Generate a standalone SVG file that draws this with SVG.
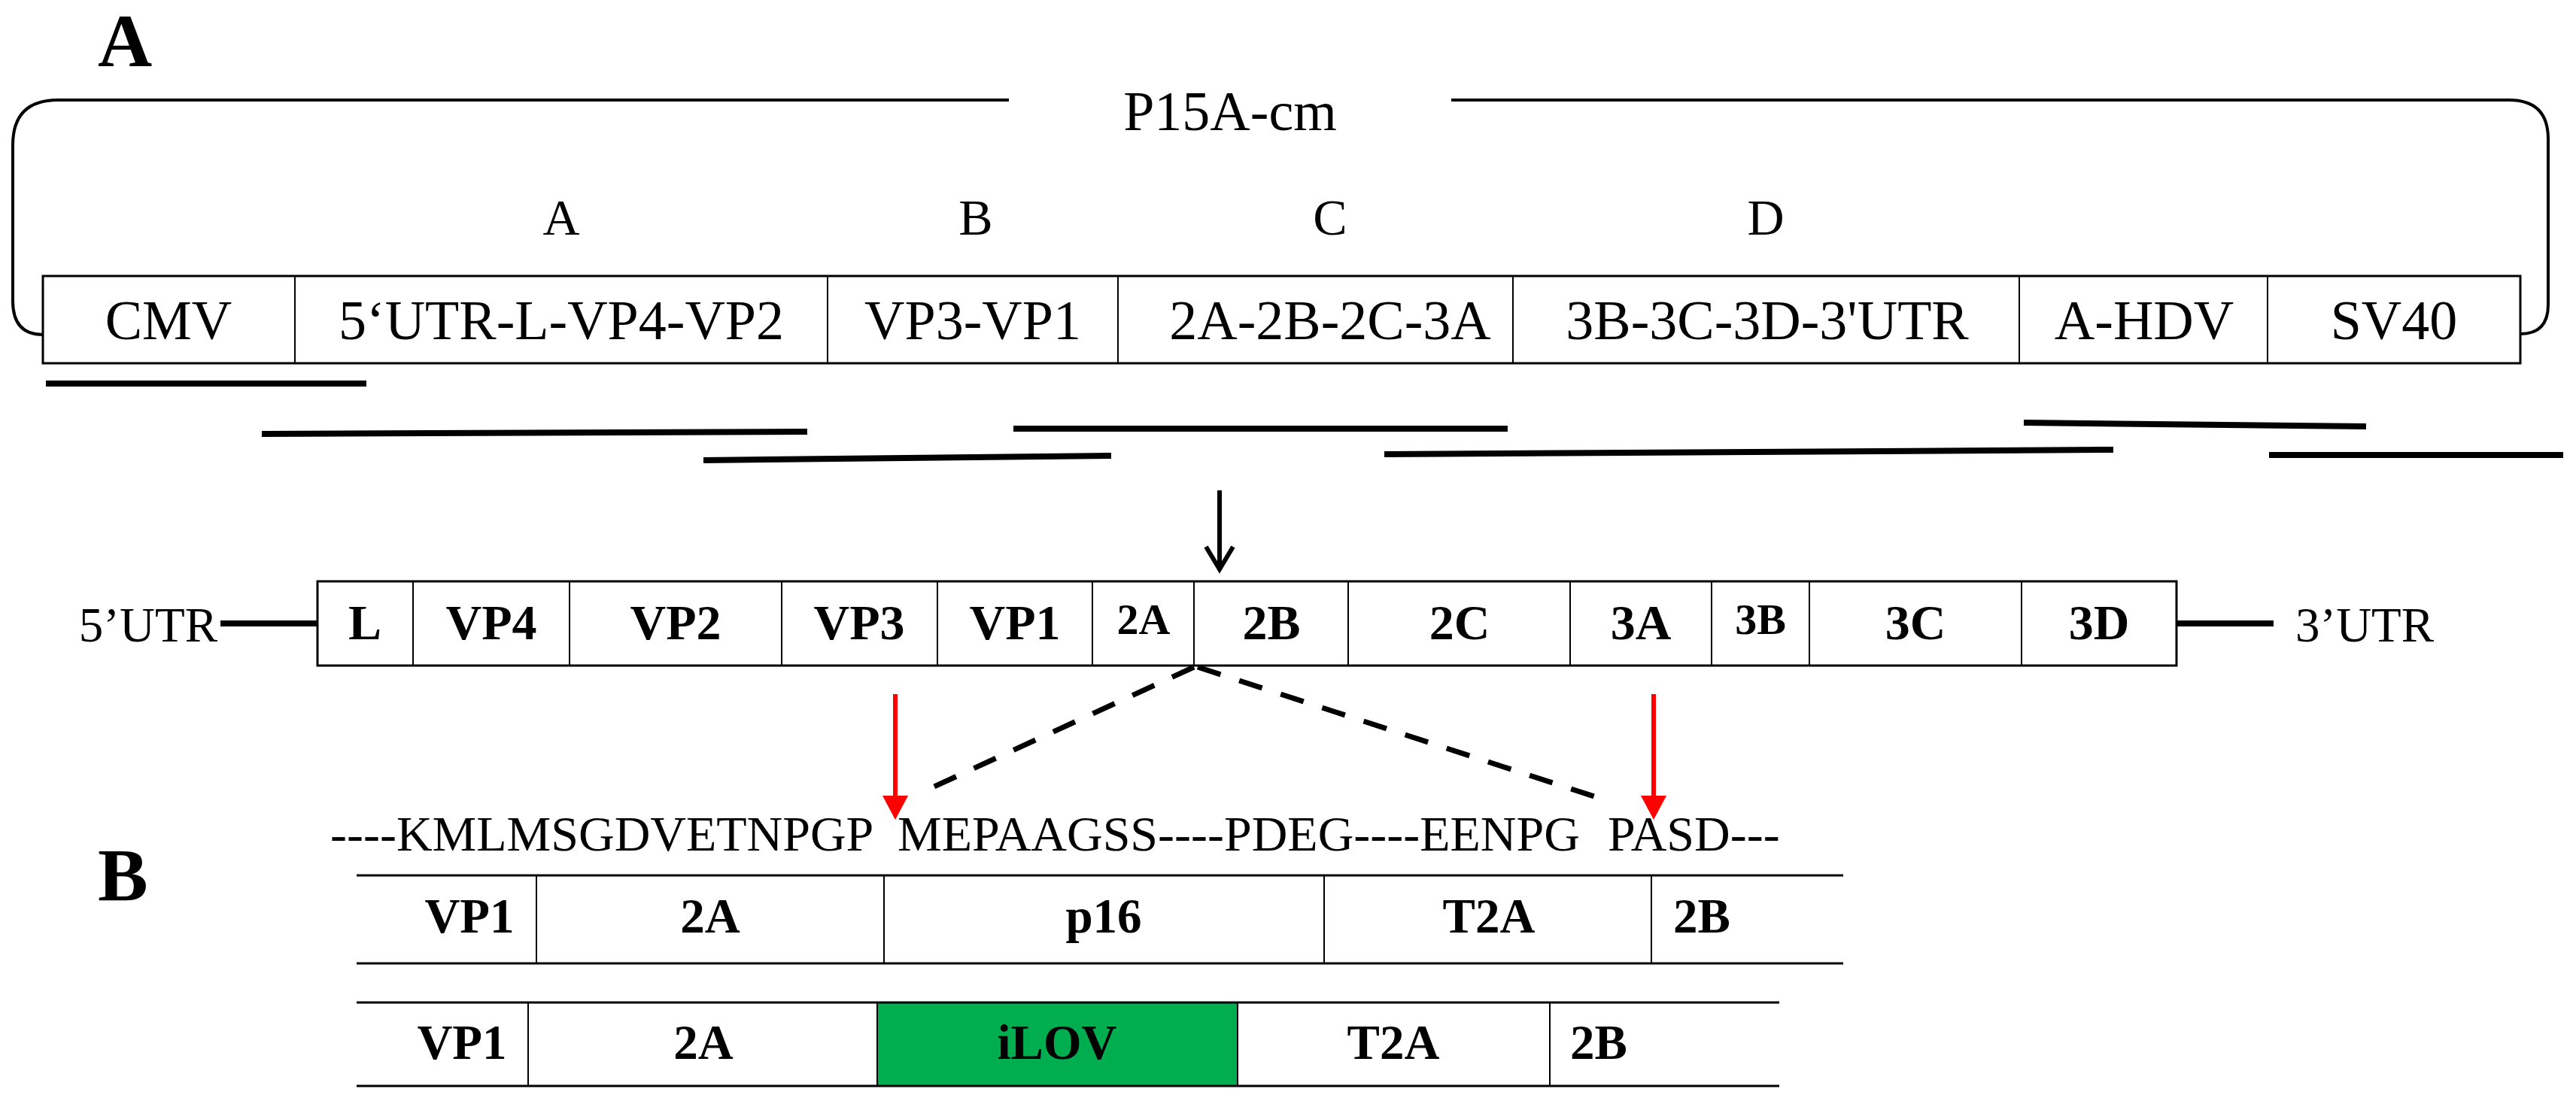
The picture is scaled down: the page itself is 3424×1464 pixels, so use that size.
<svg xmlns="http://www.w3.org/2000/svg" width="3424" height="1464" viewBox="0 0 3424 1464">
<defs>
<style>
text{font-family:"Liberation Serif","Times New Roman",serif;fill:#000}
.panel{font-size:100px;font-weight:bold}
.reg{font-size:74px;text-anchor:middle}
.seg{font-size:68px;text-anchor:middle}
.gb{font-size:66px;font-weight:bold;text-anchor:middle}
.gs{font-size:58px;font-weight:bold;text-anchor:middle}
.utr{font-size:65px}
.seq{font-size:66px}
.tb{font-size:65px;font-weight:bold;text-anchor:middle}
.tbs{font-size:65px;font-weight:bold}
.box{fill:#fff;stroke:#000;stroke-width:3}
.div{stroke:#000;stroke-width:2}
.hl{stroke:#000;stroke-width:3}
.frag{stroke:#000;stroke-width:8;fill:none}
.brk{stroke:#000;stroke-width:4;fill:none}
.dash{stroke:#000;stroke-width:7;stroke-dasharray:32 26;fill:none}
.red{stroke:#ff0000;stroke-width:6}
</style>
<marker id="redhead" viewBox="0 0 32 34" refX="0" refY="17" markerWidth="32" markerHeight="34" markerUnits="userSpaceOnUse" orient="auto">
<path d="M0,0 L32,17 L0,34 Z" fill="#ff0000"/>
</marker>
<marker id="blackhead" viewBox="0 0 36 40" refX="32" refY="20" markerWidth="36" markerHeight="40" markerUnits="userSpaceOnUse" orient="auto" overflow="visible">
<path d="M2,2 L32,20 L2,38" fill="none" stroke="#000" stroke-width="6"/>
</marker>
</defs>
<rect width="3424" height="1464" fill="#fff"/>

<g id="label-A"><text class="panel" x="130" y="88">A</text></g>
<g id="label-B"><text class="panel" x="130" y="1197">B</text></g>

<g id="plasmid-bracket">
<path class="brk" d="M1341,133 L77,133 Q17,133 17,193 L17,400 Q17,445 57,445"/>
<path class="brk" d="M1929,133 L3335,133 Q3387,133 3387,185 L3387,405 Q3387,444 3350,444"/>
<text class="reg" x="1635" y="173">P15A-cm</text>
</g>

<g id="fragment-labels">
<text class="seg" x="746" y="312">A</text>
<text class="seg" x="1297" y="312">B</text>
<text class="seg" x="1768" y="312">C</text>
<text class="seg" x="2347" y="312">D</text>
</g>

<g id="construct">
<rect class="box" x="57" y="367" width="3293" height="116"/>
<line class="div" x1="392" y1="367" x2="392" y2="483"/>
<line class="div" x1="1100" y1="367" x2="1100" y2="483"/>
<line class="div" x1="1486" y1="367" x2="1486" y2="483"/>
<line class="div" x1="2011" y1="367" x2="2011" y2="483"/>
<line class="div" x1="2684" y1="367" x2="2684" y2="483"/>
<line class="div" x1="3014" y1="367" x2="3014" y2="483"/>
<text class="reg" x="224" y="451">CMV</text>
<text class="reg" x="746" y="451">5‘UTR-L-VP4-VP2</text>
<text class="reg" x="1293" y="451">VP3-VP1</text>
<text class="reg" x="1768" y="451">2A-2B-2C-3A</text>
<text class="reg" x="2349" y="451">3B-3C-3D-3'UTR</text>
<text class="reg" x="2850" y="451">A-HDV</text>
<text class="reg" x="3182" y="451">SV40</text>
</g>

<g id="fragments">
<line class="frag" x1="61" y1="510" x2="487" y2="510"/>
<line class="frag" x1="348" y1="577" x2="1073" y2="574"/>
<line class="frag" x1="935" y1="612" x2="1477" y2="606"/>
<line class="frag" x1="1347" y1="570" x2="2004" y2="570"/>
<line class="frag" x1="1840" y1="604" x2="2809" y2="598"/>
<line class="frag" x1="2690" y1="562" x2="3145" y2="567"/>
<line class="frag" x1="3016" y1="605" x2="3407" y2="605"/>
</g>

<g id="genome">
<line class="frag" x1="293" y1="829" x2="422" y2="829"/>
<line class="frag" x1="2893" y1="829" x2="3022" y2="829"/>
<text class="utr" x="289" y="853" text-anchor="end">5’UTR</text>
<text class="utr" x="3051" y="853">3’UTR</text>
<rect class="box" x="422" y="773" width="2471" height="112"/>
<line class="div" x1="549" y1="773" x2="549" y2="885"/>
<line class="div" x1="757" y1="773" x2="757" y2="885"/>
<line class="div" x1="1039" y1="773" x2="1039" y2="885"/>
<line class="div" x1="1246" y1="773" x2="1246" y2="885"/>
<line class="div" x1="1452" y1="773" x2="1452" y2="885"/>
<line class="div" x1="1587" y1="773" x2="1587" y2="885"/>
<line class="div" x1="1792" y1="773" x2="1792" y2="885"/>
<line class="div" x1="2087" y1="773" x2="2087" y2="885"/>
<line class="div" x1="2275" y1="773" x2="2275" y2="885"/>
<line class="div" x1="2405" y1="773" x2="2405" y2="885"/>
<line class="div" x1="2687" y1="773" x2="2687" y2="885"/>
<text class="gb" x="485" y="850">L</text>
<text class="gb" x="653" y="850">VP4</text>
<text class="gb" x="898" y="850">VP2</text>
<text class="gb" x="1142" y="850">VP3</text>
<text class="gb" x="1349" y="850">VP1</text>
<text class="gs" x="1520" y="843">2A</text>
<text class="gb" x="1690" y="850">2B</text>
<text class="gb" x="1940" y="850">2C</text>
<text class="gb" x="2181" y="850">3A</text>
<text class="gs" x="2340" y="843">3B</text>
<text class="gb" x="2546" y="850">3C</text>
<text class="gb" x="2790" y="850">3D</text>
</g>

<g id="sequence">
<text class="seq" y="1131"><tspan x="439">----KMLMSGDVETNPGP</tspan><tspan x="1193">MEPAAGSS----PDEG----EENPG</tspan><tspan x="2137">PASD---</tspan></text>
</g>

<g id="table-p16">
<line class="hl" x1="474" y1="1164" x2="2450" y2="1164"/>
<line class="hl" x1="474" y1="1281" x2="2450" y2="1281"/>
<line class="div" x1="713" y1="1164" x2="713" y2="1281"/>
<line class="div" x1="1175" y1="1164" x2="1175" y2="1281"/>
<line class="div" x1="1760" y1="1164" x2="1760" y2="1281"/>
<line class="div" x1="2195" y1="1164" x2="2195" y2="1281"/>
<text class="tb" x="624" y="1240">VP1</text>
<text class="tb" x="944" y="1240">2A</text>
<text class="tb" x="1467" y="1240">p16</text>
<text class="tb" x="1979" y="1240">T2A</text>
<text class="tbs" x="2224" y="1240">2B</text>
</g>

<g id="table-iLOV">
<rect x="1166" y="1333" width="479" height="111" fill="#00AD4F"/>
<line class="hl" x1="474" y1="1333" x2="2365" y2="1333"/>
<line class="hl" x1="474" y1="1444" x2="2365" y2="1444"/>
<line class="div" x1="702" y1="1333" x2="702" y2="1444"/>
<line class="div" x1="1166" y1="1333" x2="1166" y2="1444"/>
<line class="div" x1="1645" y1="1333" x2="1645" y2="1444"/>
<line class="div" x1="2060" y1="1333" x2="2060" y2="1444"/>
<text class="tb" x="614" y="1408">VP1</text>
<text class="tb" x="935" y="1408">2A</text>
<text class="tb" x="1405" y="1408">iLOV</text>
<text class="tb" x="1852" y="1408">T2A</text>
<text class="tbs" x="2087" y="1408">2B</text>
</g>

<g id="connectors">
<line x1="1621" y1="652" x2="1621" y2="757" stroke="#000" stroke-width="6" marker-end="url(#blackhead)"/>
<line class="dash" x1="1587" y1="887" x2="1233" y2="1050"/>
<line class="dash" x1="1592" y1="887" x2="2128" y2="1062"/>
<line class="red" x1="1190" y1="923" x2="1190" y2="1058" marker-end="url(#redhead)"/>
<line class="red" x1="2198" y1="923" x2="2198" y2="1058" marker-end="url(#redhead)"/>
</g>
</svg>
